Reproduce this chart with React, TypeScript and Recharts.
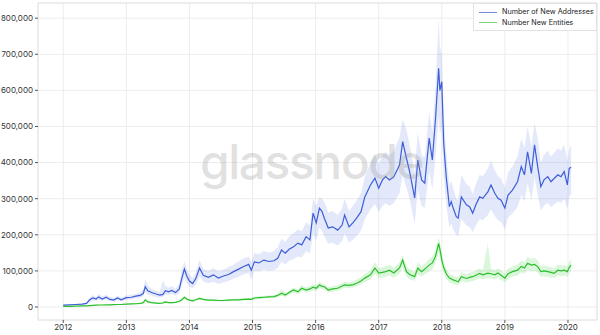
import React from "react";
import {
    ComposedChart, Area, Line, XAxis, YAxis, CartesianGrid, ReferenceArea
} from "recharts";

// all values in thousands
const dates = [
    2012.00, 2012.10, 2012.20, 2012.30, 2012.37, 2012.42, 2012.47, 2012.52, 2012.56, 2012.62,
    2012.68, 2012.74, 2012.80, 2012.86, 2012.92, 2013.00, 2013.08, 2013.15, 2013.22, 2013.27,
    2013.30, 2013.34, 2013.40, 2013.47, 2013.53, 2013.58, 2013.62, 2013.67, 2013.72, 2013.78,
    2013.84, 2013.88, 2013.92, 2013.96, 2014.00, 2014.05, 2014.10, 2014.16, 2014.22, 2014.30,
    2014.38, 2014.46, 2014.54, 2014.62, 2014.70, 2014.78, 2014.86, 2014.94, 2014.98, 2015.03,
    2015.10, 2015.18, 2015.26, 2015.34, 2015.40, 2015.46, 2015.52, 2015.58, 2015.65, 2015.72,
    2015.78, 2015.85, 2015.91, 2015.96, 2016.01, 2016.06, 2016.10, 2016.14, 2016.20, 2016.27,
    2016.35, 2016.42, 2016.46, 2016.53, 2016.60, 2016.65, 2016.72, 2016.78, 2016.87, 2016.94,
    2017.00, 2017.06, 2017.11, 2017.17, 2017.24, 2017.33, 2017.38, 2017.44, 2017.49, 2017.57,
    2017.62, 2017.68, 2017.73, 2017.80, 2017.85, 2017.90, 2017.95, 2017.97, 2018.00, 2018.03,
    2018.07, 2018.12, 2018.15, 2018.18, 2018.23, 2018.26, 2018.31, 2018.39, 2018.44, 2018.49,
    2018.54, 2018.60, 2018.65, 2018.73, 2018.78, 2018.84, 2018.89, 2018.94, 2019.00, 2019.05,
    2019.12, 2019.20, 2019.26, 2019.31, 2019.36, 2019.42, 2019.47, 2019.52, 2019.57, 2019.62,
    2019.68, 2019.73, 2019.78, 2019.84, 2019.89, 2019.94, 2019.99, 2020.02, 2020.05,
];

const newAddresses = [
    5, 6, 7, 8, 10, 20, 25, 22, 28, 22,
    27, 21, 19, 25, 20, 26, 27, 30, 32, 38,
    56, 45, 40, 36, 33, 35, 45, 42, 46, 40,
    50, 80, 105, 85, 72, 65, 78, 108, 88, 82,
    89, 80, 86, 90, 98, 105, 112, 118, 102, 125,
    122, 130, 126, 128, 135, 158, 149, 160, 167, 177,
    172, 195, 186, 260, 233, 274, 265, 245, 219, 222,
    213, 227, 255, 222, 235, 246, 264, 305, 338, 357,
    329, 352, 361, 352, 361, 393, 458, 412, 375, 302,
    407, 352, 343, 468, 407, 520, 661, 600, 624, 454,
    361, 278, 292, 274, 250, 246, 305, 283, 278, 260,
    283, 305, 301, 319, 338, 315, 301, 296, 274, 310,
    324, 347, 389, 366, 430, 370, 449, 389, 333, 352,
    361, 347, 356, 366, 361, 375, 338, 384, 387,
];

const addressesLow = [
    4, 5, 6, 6, 8, 15, 18, 17, 20, 17,
    20, 16, 15, 19, 16, 20, 21, 24, 25, 29,
    42, 34, 31, 28, 26, 27, 34, 33, 36, 31,
    38, 60, 80, 65, 56, 52, 60, 85, 70, 66,
    70, 64, 68, 72, 78, 84, 90, 95, 75, 100,
    98, 104, 100, 102, 108, 125, 118, 128, 133, 140,
    137, 155, 148, 205, 185, 220, 212, 195, 175, 178,
    170, 182, 204, 178, 188, 197, 211, 244, 270, 285,
    263, 280, 288, 280, 288, 315, 365, 330, 300, 230,
    325, 280, 275, 375, 325, 415, 530, 480, 500, 360,
    285, 220, 232, 215, 200, 195, 244, 226, 222, 208,
    226, 244, 240, 255, 270, 252, 240, 236, 215, 248,
    259, 277, 311, 292, 344, 296, 359, 311, 266, 281,
    288, 277, 284, 292, 288, 300, 270, 307, 310,
];

const addressesHigh = [
    6, 7, 8, 10, 13, 26, 33, 28, 36, 29,
    34, 28, 25, 31, 26, 32, 34, 37, 40, 50,
    78, 60, 50, 45, 42, 75, 58, 53, 58, 50,
    65, 105, 125, 105, 90, 80, 95, 130, 105, 100,
    108, 98, 104, 110, 118, 126, 135, 140, 125, 150,
    146, 155, 150, 155, 165, 190, 180, 195, 205, 215,
    210, 235, 225, 300, 280, 305, 300, 290, 262, 266,
    255, 272, 300, 266, 282, 295, 316, 360, 400, 425,
    395, 420, 430, 420, 432, 470, 520, 490, 450, 370,
    485, 420, 415, 540, 485, 610, 800, 720, 700, 540,
    430, 335, 350, 330, 300, 296, 366, 340, 334, 312,
    340, 366, 362, 383, 406, 378, 362, 356, 330, 372,
    389, 416, 467, 440, 500, 444, 510, 467, 400, 422,
    433, 416, 427, 440, 433, 450, 406, 440, 445,
];

const newEntities = [
    2, 2, 2.5, 3, 3, 4, 4.5, 5, 5.5, 5.5,
    6, 6, 6.5, 7, 7, 8, 8.5, 9, 10, 12,
    20, 14, 12, 11, 10, 11, 14, 12, 12, 13,
    16, 20, 27, 22, 19, 17, 20, 24, 21, 19,
    19, 18, 18, 19, 20, 20, 21, 22, 21, 25,
    26, 27, 28, 29, 32, 38, 33, 40, 47, 42,
    52, 47, 50, 55, 52, 61, 58, 56, 47, 50,
    52, 58, 61, 60, 62, 66, 72, 80, 89, 108,
    94, 96, 98, 102, 94, 108, 130, 98, 90, 84,
    108, 98, 105, 116, 122, 140, 176, 160, 130, 110,
    92, 80, 78, 75, 72, 70, 84, 79, 82, 84,
    88, 93, 89, 94, 92, 89, 94, 88, 80, 92,
    98, 102, 112, 108, 121, 116, 118, 112, 98, 100,
    98, 96, 93, 102, 100, 102, 98, 110, 116,
];

const entitiesLow = [
    1.5, 1.5, 2, 2.5, 2.5, 3, 3.5, 4, 4.5, 4.5,
    5, 5, 5.5, 6, 6, 7, 7, 7.5, 8, 10,
    15, 11, 10, 9, 8.5, 9, 11, 10, 10, 11,
    13, 16, 22, 18, 16, 14, 17, 20, 18, 16,
    16, 15, 15, 16, 17, 17, 18, 19, 17, 21,
    22, 23, 24, 25, 27, 32, 28, 34, 40, 36,
    44, 40, 42, 46, 44, 52, 50, 48, 40, 43,
    45, 50, 53, 52, 54, 57, 62, 69, 76, 92,
    80, 82, 84, 87, 80, 92, 110, 84, 77, 72,
    92, 84, 90, 99, 104, 120, 150, 137, 111, 94,
    78, 68, 66, 64, 61, 60, 72, 67, 70, 72,
    75, 80, 76, 80, 78, 76, 80, 75, 68, 78,
    84, 87, 96, 92, 103, 99, 101, 96, 84, 85,
    84, 82, 80, 87, 85, 87, 84, 94, 99,
];

const entitiesHigh = [
    2.5, 2.5, 3, 3.5, 4, 5, 5.5, 6, 7, 6.5,
    7, 7, 7.5, 8, 8, 9.5, 10, 10.5, 12, 15,
    24, 17, 14, 13, 12, 16, 17, 14, 14, 15,
    19, 24, 31, 26, 22, 20, 23, 28, 24, 22,
    22, 21, 21, 22, 23, 23, 24, 25, 25, 29,
    30, 31, 32, 34, 37, 50, 39, 46, 54, 49,
    60, 55, 58, 64, 60, 70, 66, 64, 55, 58,
    60, 66, 70, 68, 71, 76, 83, 92, 102, 124,
    108, 110, 112, 117, 108, 124, 145, 112, 104, 97,
    124, 112, 120, 133, 140, 160, 192, 180, 150, 127,
    106, 92, 90, 87, 83, 81, 97, 91, 95, 97,
    101, 107, 102, 176, 106, 102, 108, 101, 92, 106,
    112, 117, 129, 124, 139, 133, 136, 129, 112, 115,
    112, 110, 107, 117, 115, 117, 112, 126, 133,
];

const yearTicks = [2012, 2013, 2014, 2015, 2016, 2017, 2018, 2019, 2020];
const valueTicks = [0, 100000, 200000, 300000, 400000, 500000, 600000, 700000, 800000];

const X_DOMAIN = [2011.6, 2020.46];
const Y_DOMAIN = [-36000, 842000];

const rows = dates.map((t, i) => ({
    t,
    addresses: newAddresses[i] * 1000,
    addressBand: [addressesLow[i] * 1000, addressesHigh[i] * 1000],
    entities: newEntities[i] * 1000,
    entityBand: [entitiesLow[i] * 1000, entitiesHigh[i] * 1000],
}));

const FONT = "Inter, 'Noto Sans', sans-serif";
const BLUE = "#3d5ed8";
const GREEN = "#2cbf2c";

const tickStyle = { fill: "#333", fontSize: 8, fontFamily: FONT };

const legendItems = [
    { label: "Number of New Addresses", color: "#7088da" },
    { label: "Number New Entities", color: "#7fd07f" },
];

export default function App() {
    return (
        <div style={{ position: "absolute", left: 0, top: 0, width: 600, height: 335, background: "#fff", fontFamily: FONT }}>
            <ComposedChart width={600} height={335} data={rows} margin={{ top: 3, right: 3, left: 0, bottom: 0 }}>
                <CartesianGrid stroke="#ececec" strokeWidth={1} />
                <ReferenceArea x1={X_DOMAIN[0]} x2={X_DOMAIN[1]} y1={Y_DOMAIN[0]} y2={Y_DOMAIN[1]} fill="none" stroke="#e6e6e6" ifOverflow="visible" />
                <XAxis
                    dataKey="t"
                    type="number"
                    domain={X_DOMAIN}
                    ticks={yearTicks}
                    allowDataOverflow
                    height={15}
                    tick={tickStyle}
                    tickSize={3}
                    tickMargin={1}
                    tickLine={{ stroke: "#555" }}
                    axisLine={false}
                />
                <YAxis
                    type="number"
                    domain={Y_DOMAIN}
                    ticks={valueTicks}
                    allowDataOverflow
                    width={38}
                    tick={tickStyle}
                    tickSize={3}
                    tickMargin={2}
                    tickLine={{ stroke: "#555" }}
                    axisLine={false}
                    tickFormatter={(v: number) => v.toLocaleString("en-US")}
                />
                <Area dataKey="addressBand" stroke="none" fill="#6483e8" fillOpacity={0.18} isAnimationActive={false} />
                <Area dataKey="entityBand" stroke="none" fill="#5cd95c" fillOpacity={0.22} isAnimationActive={false} />
                <Line dataKey="addresses" stroke={BLUE} strokeWidth={1.2} dot={false} isAnimationActive={false} />
                <Line dataKey="entities" stroke={GREEN} strokeWidth={1.2} dot={false} isAnimationActive={false} />
            </ComposedChart>
            <div style={{
                position: "absolute", left: 200, top: 136, width: 200, textAlign: "center",
                fontSize: 48, fontWeight: 500, letterSpacing: -1.5, color: "rgba(150,150,150,0.28)",
                pointerEvents: "none", lineHeight: "52px", whiteSpace: "nowrap",
            }}>glassnode</div>
            <div style={{
                position: "absolute", left: 473, top: 3, width: 124, height: 28, background: "#fff",
                border: "1px solid #e2e2e2", boxSizing: "border-box", fontSize: 7.2, color: "#222",
                padding: "3px 0 0 5px", lineHeight: "10.5px", whiteSpace: "nowrap",
            }}>
                {legendItems.map((item) => (
                    <div key={item.label} style={{ display: "flex", alignItems: "center", height: 10.5 }}>
                        <span style={{ flex: "0 0 18px", height: 0, borderTop: `1.5px solid ${item.color}`, marginRight: 5 }} />
                        <span>{item.label}</span>
                    </div>
                ))}
            </div>
        </div>
    );
}
